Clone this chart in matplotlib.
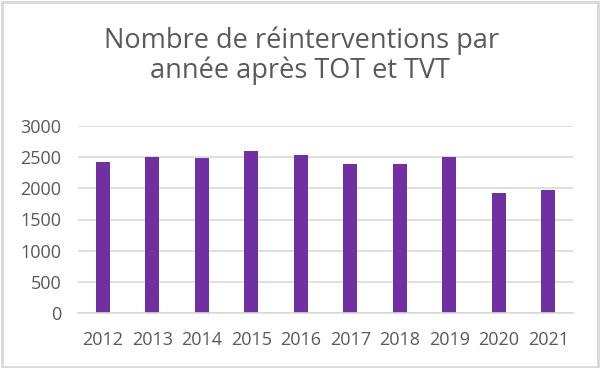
import matplotlib
matplotlib.use("Agg")
import matplotlib.pyplot as plt
from matplotlib.patches import Rectangle

# données
years = ["2012", "2013", "2014", "2015", "2016", "2017", "2018", "2019", "2020", "2021"]
reinterventions = [2420, 2510, 2490, 2600, 2530, 2390, 2390, 2500, 1930, 1980]
yticks = [0, 500, 1000, 1500, 2000, 2500, 3000]
title_lines = ["Nombre de réinterventions par", "année après TOT et TVT"]

TEXT = "#595959"
GRID = "#d9d9d9"
BAR = "#7030a0"

plt.rcParams["font.family"] = ["Open Sans", "DejaVu Sans"]

fig = plt.figure(figsize=(6.0, 3.68), dpi=100)
ax = fig.add_axes([78 / 600, 1 - 313 / 368, 495 / 600, 187 / 368])

ax.bar(range(len(years)), reinterventions, width=0.29, color=BAR, zorder=2)

ax.set_xlim(-0.5, len(years) - 0.5)
ax.set_ylim(0, 3000)
ax.set_yticks(yticks)
ax.set_xticks(range(len(years)))
ax.set_xticklabels(years)
ax.grid(axis="y", color=GRID, linewidth=1.2, zorder=0)
ax.tick_params(axis="both", length=0, labelsize=13, colors=TEXT)
ax.tick_params(axis="x", pad=13)
ax.tick_params(axis="y", pad=12)
for s in ("top", "right", "left"):
    ax.spines[s].set_visible(False)
ax.spines["bottom"].set_color(GRID)
ax.spines["bottom"].set_linewidth(1.2)

# titre sur deux lignes
fig.text(302 / 600, 1 - 47.7 / 368, title_lines[0], ha="center", va="baseline",
         fontsize=19.5, color=TEXT)
fig.text(300 / 600, 1 - 78.3 / 368, title_lines[1], ha="center", va="baseline",
         fontsize=19.5, color=TEXT)

# cadre gris autour du graphique
fig.patches.append(Rectangle((1.5 / 600, 1.5 / 368), 596 / 600, 364.5 / 368,
                             transform=fig.transFigure, fill=False,
                             edgecolor=GRID, linewidth=2.0))

fig.savefig("out.png", dpi=100)
